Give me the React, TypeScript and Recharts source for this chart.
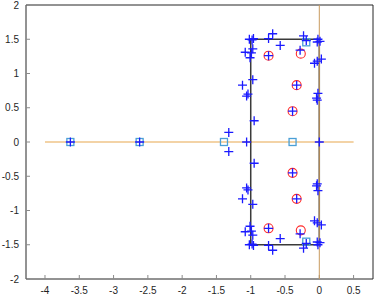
import { ScatterChart, Scatter, XAxis, YAxis } from 'recharts';

const xTicks = [-4, -3.5, -3, -2.5, -2, -1.5, -1, -0.5, 0, 0.5];
const yTicks = [-2, -1.5, -1, -0.5, 0, 0.5, 1, 1.5, 2];

// plus markers (closed-loop poles)
const plusPoints = [
  { x: -1.02, y: 1.5 }, { x: -0.98, y: 1.49 }, { x: -0.96, y: 1.51 },
  { x: -0.74, y: 1.51 }, { x: -0.68, y: 1.58 }, { x: -0.57, y: 1.41 },
  { x: -0.23, y: 1.55 }, { x: -0.19, y: 1.48 },
  { x: -0.02, y: 1.5 }, { x: 0.01, y: 1.47 }, { x: -0.03, y: 1.46 },
  { x: -1.08, y: 1.31 }, { x: -0.99, y: 1.3 }, { x: -1.01, y: 1.23 }, { x: -0.97, y: 1.36 },
  { x: -0.28, y: 1.34 },
  { x: -0.07, y: 1.15 }, { x: -0.03, y: 1.18 }, { x: 0.03, y: 1.21 },
  { x: -0.97, y: 0.91 }, { x: -1.12, y: 0.83 }, { x: -1.04, y: 0.7 }, { x: -1.06, y: 0.67 },
  { x: -0.02, y: 0.71 }, { x: -0.04, y: 0.64 }, { x: -0.03, y: 0.61 },
  { x: -0.95, y: 0.31 }, { x: -1.32, y: 0.14 },
  { x: -0.74, y: 1.26 }, { x: -0.33, y: 0.83 }, { x: -0.39, y: 0.45 },
  { x: -1.06, y: 0 }, { x: 0, y: 0 }, { x: -3.63, y: 0 }, { x: -2.62, y: 0 },
  { x: -1.32, y: -0.14 }, { x: -0.95, y: -0.31 },
  { x: -0.39, y: -0.45 }, { x: -0.33, y: -0.83 }, { x: -0.74, y: -1.26 },
  { x: -0.02, y: -0.71 }, { x: -0.04, y: -0.64 }, { x: -0.03, y: -0.61 },
  { x: -0.97, y: -0.91 }, { x: -1.12, y: -0.83 }, { x: -1.04, y: -0.7 }, { x: -1.06, y: -0.67 },
  { x: -0.07, y: -1.15 }, { x: -0.03, y: -1.18 }, { x: 0.03, y: -1.21 },
  { x: -0.28, y: -1.34 },
  { x: -1.08, y: -1.31 }, { x: -0.99, y: -1.3 }, { x: -1.01, y: -1.23 }, { x: -0.97, y: -1.36 },
  { x: -0.02, y: -1.5 }, { x: 0.01, y: -1.47 }, { x: -0.03, y: -1.46 },
  { x: -0.23, y: -1.55 }, { x: -0.19, y: -1.48 },
  { x: -0.74, y: -1.51 }, { x: -0.68, y: -1.58 }, { x: -0.57, y: -1.41 },
  { x: -1.02, y: -1.5 }, { x: -0.98, y: -1.49 }, { x: -0.96, y: -1.51 },
];

const circlePoints = [
  { x: -0.74, y: 1.26 }, { x: -0.27, y: 1.29 }, { x: -0.33, y: 0.83 }, { x: -0.39, y: 0.45 },
  { x: -0.39, y: -0.45 }, { x: -0.33, y: -0.83 }, { x: -0.74, y: -1.26 }, { x: -0.27, y: -1.29 },
];

const squarePoints = [
  { x: -3.63, y: 0 }, { x: -2.62, y: 0 }, { x: -1.39, y: 0 }, { x: -0.39, y: 0 },
  { x: -0.19, y: 1.455 }, { x: -0.19, y: -1.455 },
];

const boxPath = [
  { x: -1, y: -1.5 }, { x: -1, y: 1.5 }, { x: 0, y: 1.5 }, { x: 0, y: -1.5 }, { x: -1, y: -1.5 },
];
const realAxis = [{ x: -4, y: 0 }, { x: 0.5, y: 0 }];
const imagAxis = [{ x: 0, y: -2 }, { x: 0, y: 2 }];

const xDomain = [-4.277, 0.783];
const yDomain = [-2, 2];

const font = { fontSize: 10, fill: '#1f1f1f', fontFamily: 'Liberation Sans, Arial, sans-serif' };

const Plus = (p: any) => (
  <path
    d={`M${p.cx - 4.5},${p.cy}H${p.cx + 4.5}M${p.cx},${p.cy - 4.5}V${p.cy + 4.5}`}
    stroke="#1a1aff"
    strokeWidth={1.3}
    fill="none"
  />
);
const Ring = (p: any) => <circle cx={p.cx} cy={p.cy} r={4.5} stroke="#ff2a2a" strokeWidth={1.1} fill="none" />;
const Box = (p: any) => (
  <rect x={p.cx - 3.5} y={p.cy - 3.5} width={7} height={7} stroke="#4a9fd6" strokeWidth={1.3} fill="none" />
);
const Nothing = () => <g />;

export default function App() {
  return (
    <div style={{ position: 'absolute', left: 0, top: 0, background: '#fff' }}>
      <ScatterChart width={374} height={295} margin={{ top: 4, right: 0, bottom: 0, left: 0 }}>
        <XAxis
          dataKey="x"
          type="number"
          domain={xDomain}
          ticks={xTicks}
          allowDataOverflow
          height={16}
          tickSize={-4}
          tickMargin={12}
          tick={font}
          axisLine={{ stroke: '#262626' }}
          tickLine={{ stroke: '#8a8a8a' }}
        />
        <XAxis
          xAxisId="top"
          orientation="top"
          dataKey="x"
          type="number"
          domain={xDomain}
          ticks={xTicks}
          allowDataOverflow
          height={1}
          tickSize={-4}
          tick={false}
          axisLine={{ stroke: '#262626' }}
          tickLine={{ stroke: '#8a8a8a' }}
        />
        <YAxis
          dataKey="y"
          type="number"
          domain={yDomain}
          ticks={yTicks}
          allowDataOverflow
          width={26}
          tickSize={-4}
          tickMargin={11}
          tick={font}
          axisLine={{ stroke: '#262626' }}
          tickLine={{ stroke: '#8a8a8a' }}
        />
        <YAxis
          yAxisId="right"
          orientation="right"
          dataKey="y"
          type="number"
          domain={yDomain}
          ticks={yTicks}
          allowDataOverflow
          width={1}
          tickSize={-4}
          tick={false}
          axisLine={{ stroke: '#262626' }}
          tickLine={{ stroke: '#8a8a8a' }}
        />
        <Scatter data={realAxis} line={{ stroke: '#f3d3a6', strokeWidth: 2 }} lineType="joint" shape={Nothing} isAnimationActive={false} />
        <Scatter data={boxPath} line={{ stroke: '#3a3a3a', strokeWidth: 1.5 }} lineType="joint" shape={Nothing} isAnimationActive={false} />
        <Scatter
          data={imagAxis}
          xAxisId="top"
          yAxisId="right"
          line={{ stroke: '#c89a5e', strokeWidth: 1 }}
          lineType="joint"
          shape={Nothing}
          isAnimationActive={false}
        />
        <Scatter data={squarePoints} shape={Box} isAnimationActive={false} />
        <Scatter data={circlePoints} shape={Ring} isAnimationActive={false} />
        <Scatter data={plusPoints} shape={Plus} isAnimationActive={false} />
      </ScatterChart>
    </div>
  );
}
